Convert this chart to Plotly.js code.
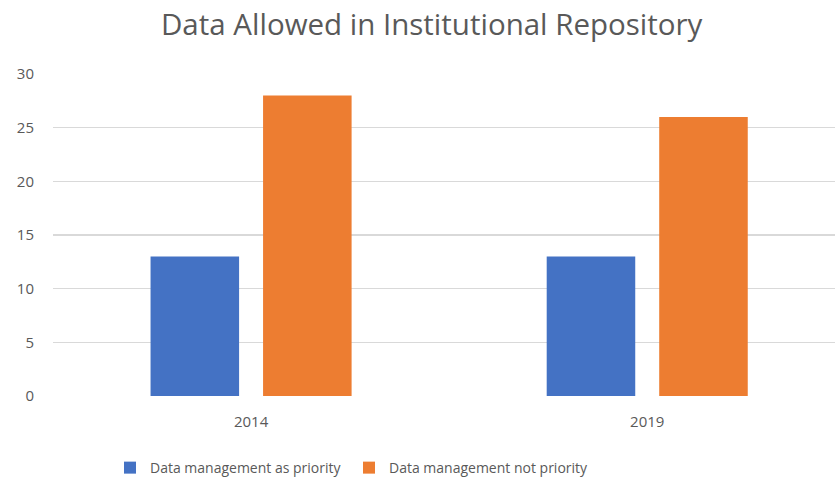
<!DOCTYPE html>
<html>
<head>
<meta charset="utf-8">
<script src="https://cdn.plot.ly/plotly-3.0.1.min.js"></script>
<style>html,body{margin:0;padding:0;background:#fff;}#chart{width:835px;height:484px;}</style>
</head>
<body>
<div id="chart"></div>
<script>
const categories = ["2014", "2019"];
const seriesNames = ["Data management as priority", "Data management not priority"];
const priorityValues = [13, 13];
const notPriorityValues = [28, 26];
const yTicks = [0, 5, 10, 15, 20, 25, 30];

const font = "Open Sans, sans-serif";
const data = [
  {type: "bar", name: seriesNames[0], x: categories, y: priorityValues, marker: {color: "#4472C4"}},
  {type: "bar", name: seriesNames[1], x: categories, y: notPriorityValues, marker: {color: "#ED7D31"}}
];
const layout = {
  width: 835, height: 484,
  margin: {l: 53, r: 0, t: 73.5, b: 88},
  paper_bgcolor: "#fff", plot_bgcolor: "#fff",
  barmode: "group", bargap: 0.432, bargroupgap: 0.213,
  title: {text: "Data Allowed in Institutional Repository", font: {family: font, size: 29.5, color: "#595959"}, x: 0.517, xanchor: "center", xref: "container", y: 0.948, yanchor: "middle", yref: "container"},
  xaxis: {type: "category", range: [-0.5, 1.474], showgrid: false, zeroline: false, showline: false, ticks: "", ticklabelstandoff: 15, tickfont: {family: font, size: 15, color: "#595959"}},
  yaxis: {range: [0, 30], tickvals: yTicks, showgrid: true, gridcolor: "#D9D9D9", gridwidth: 1.5, zeroline: false, showline: false, ticks: "", ticklabelstandoff: 18, tickfont: {family: font, size: 15, color: "#595959"}},
  showlegend: true,
  legend: {orientation: "h", x: 110 / 835, xref: "container", xanchor: "left", y: 0.033, yref: "container", yanchor: "middle", entrywidth: 194, entrywidthmode: "pixels", itemwidth: 30, font: {family: font, size: 14, color: "#595959"}, itemclick: false, traceorder: "normal"}
};
Plotly.newPlot("chart", data, layout, {displayModeBar: false, staticPlot: true});
</script>
</body>
</html>
